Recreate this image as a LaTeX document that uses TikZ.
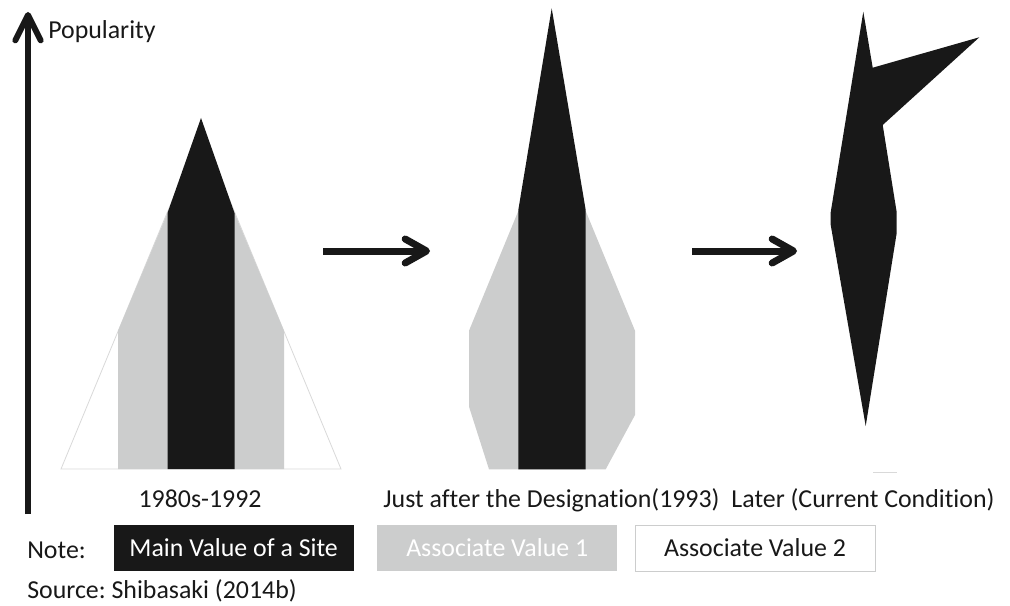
\documentclass[tikz,border=0pt]{standalone}
\usepackage{fontspec}
\setmainfont{Carlito}[Ligatures=NoCommon]
\usetikzlibrary{arrows.meta,positioning}
\definecolor{sitecore}{HTML}{181818}
\definecolor{assocgray}{HTML}{CCCDCD}
\definecolor{rimgray}{HTML}{D9D9D9}
\frenchspacing

\begin{document}
\begin{tikzpicture}[x=0.75pt, y=-0.75pt,
    lbl/.style={font=\fontsize{19.4}{23}\selectfont, inner sep=0pt, text=sitecore},
    keybox/.style={lbl, minimum width=180pt, minimum height=34.5pt},
    trend/.style={line width=5.25pt, draw=sitecore, -{Straight Barb[length=16pt, width=18pt, round]}},
    mainval/.style={fill=sitecore},
    assoc/.style={fill=assocgray},
  ]
  \useasboundingbox (0,0) rectangle (1010,606);

  \coordinate (axisfoot) at (28,514);
  \coordinate (axistop) at (28,12);
  \draw[line width=4.5pt, draw=sitecore, -{Straight Barb[length=19pt, width=19pt, round]}] (axisfoot) -- (axistop);
  \node[lbl, anchor=base west] (popularity) at (48,38.3) {Popularity};

  % 1980s-1992
  \draw[draw=rimgray, line width=0.6pt, fill=white] (61,469) -- (201,131) -- (341,469) -- cycle;
  \fill[assoc] (118,469) -- (118,331) -- (167.5,213) -- (234.5,213) -- (284,331) -- (284,469) -- cycle;
  \fill[mainval] (167.5,469) -- (167.5,213) -- (201,118) -- (234.5,213) -- (234.5,469) -- cycle;
  \node[lbl, anchor=base] (early) at (200,507.7) {1980s-1992};

  % just after the designation
  \fill[assoc] (489,469.3) -- (469,406.7) -- (469,330.7) -- (518.3,211) -- (585.7,211) -- (635,330.7) -- (635,415) -- (605.7,469.3) -- cycle;
  \fill[mainval] (518.3,469.3) -- (518.3,210) -- (551.7,8.3) -- (585.7,210) -- (585.7,469.3) -- cycle;
  \node[lbl, anchor=base] (designation) at (551.5,507.7) {Just after the Designation(1993)};

  % later
  \fill[mainval] (863.3,11.7) -- (872.7,67.7) -- (979.3,37.3) -- (882.7,125) -- (896.7,212.3) -- (896.7,233) -- (865.7,426) -- (830.7,225) -- (830.7,212.3) -- cycle;
  \draw[draw=rimgray, line width=0.75pt] (873,472.7) -- (897,472.7);
  \node[lbl, anchor=base] (later) at (863,507.7) {Later (Current Condition)};

  \coordinate (stepAfrom) at (323,251);
  \coordinate (stepAto) at (430,251);
  \coordinate (stepBfrom) at (692,251);
  \coordinate (stepBto) at (797,251);
  \draw[trend] (stepAfrom) -- (stepAto);
  \draw[trend] (stepBfrom) -- (stepBto);

  % legend
  \node[lbl, anchor=base west] (note) at (27,558) {Note:};
  \node[keybox, fill=sitecore, text=white] (mainkey) at (233.7,548) {Main Value of a Site};
  \node[keybox, fill=assocgray, text=white, right=17.25pt of mainkey] (assockeyA) {Associate Value 1};
  \node[keybox, draw=assocgray, line width=0.75pt, right=12.75pt of assockeyA] (assockeyB) {Associate Value 2};
  \node[lbl, anchor=base west] (source) at (27,598) {Source: Shibasaki (2014b)};
\end{tikzpicture}
\end{document}
